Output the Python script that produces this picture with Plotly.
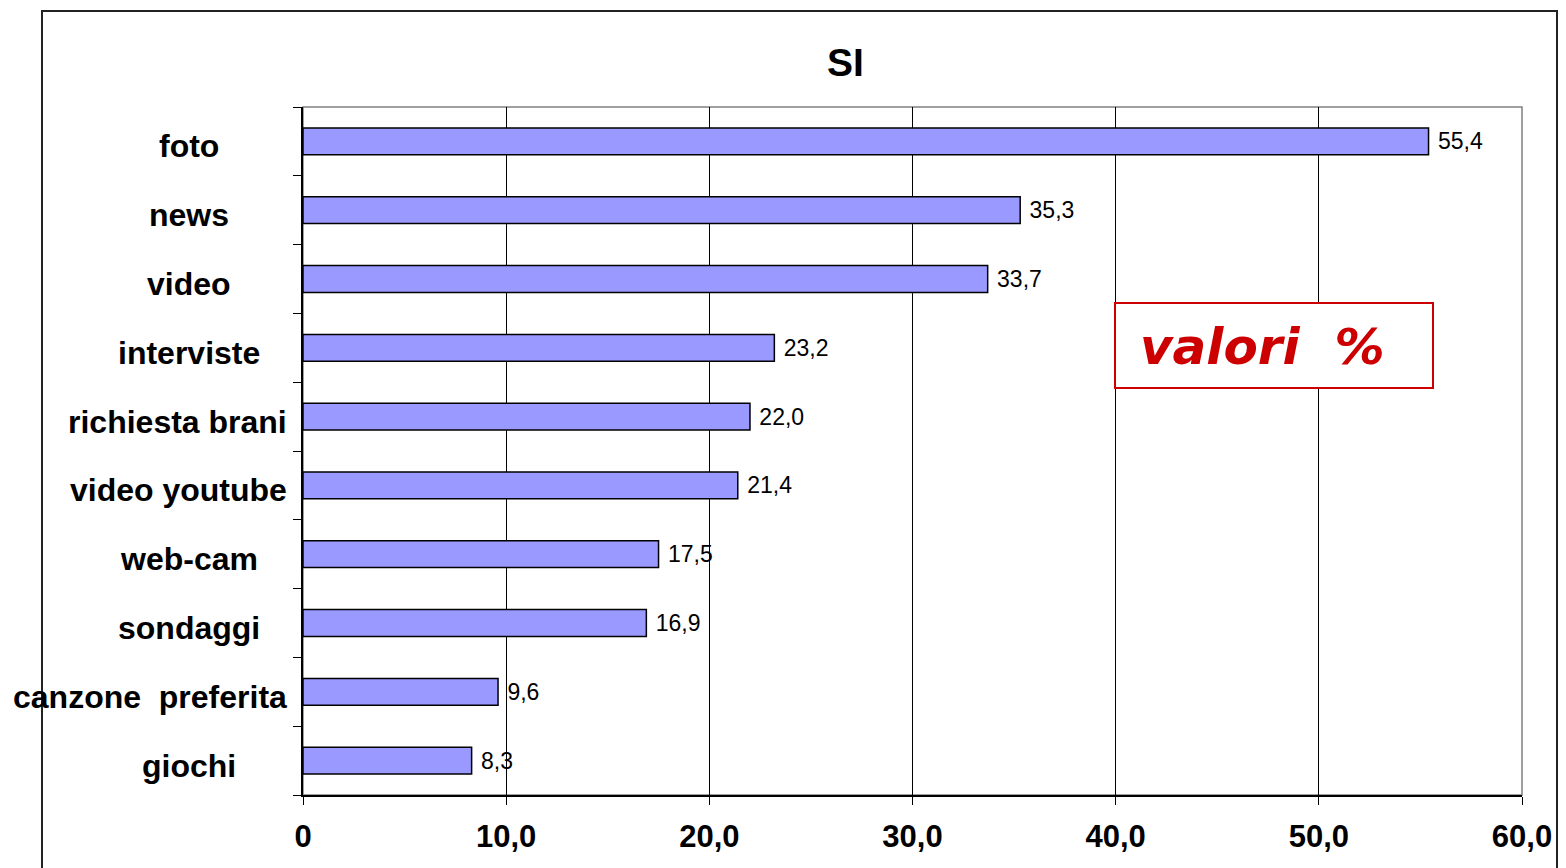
import plotly.graph_objects as go

# Survey answers (percent of "SI")
categories = ["foto", "news", "video", "interviste", "richiesta brani",
              "video youtube", "web-cam", "sondaggi", "canzone  preferita", "giochi"]
values = [55.4, 35.3, 33.7, 23.2, 22.0, 21.4, 17.5, 16.9, 9.6, 8.3]
x_ticks = [0, 10, 20, 30, 40, 50, 60]
x_tick_labels = ["0", "10,0", "20,0", "30,0", "40,0", "50,0", "60,0"]

W, H = 1566, 868
L, R, T, B = 303, 44, 107, 73
pw, ph = W - L - R, H - T - B


def px_x(p):
    return (p - L) / pw


def px_y(p):
    return (H - B - p) / ph


value_text = [f"{v:.1f}".replace(".", ",") for v in values]
bold_font = dict(family="Liberation Sans, Arial", size=31, color="#000", weight="bold")
label_font = dict(family="Liberation Sans, Arial", size=32, color="#000", weight="bold")

fig = go.Figure(go.Bar(
    x=values, y=categories, orientation="h",
    marker=dict(color="#9999FF", line=dict(color="#000000", width=1.5)),
    width=0.39,
    text=value_text, texttemplate=" %{text}", textposition="outside",
    textfont=dict(family="Liberation Sans, Arial", size=23, color="#000000"),
    cliponaxis=False,
))

# category labels: centred in the label column, long ones kept clear of the axis
annotations = []
for c in categories:
    wide = len(c) > 12
    annotations.append(dict(
        x=px_x(289) if wide else px_x(189), y=c, xref="paper", yref="y", text=c,
        showarrow=False, xanchor="right" if wide else "center", yanchor="middle",
        yshift=-5, font=label_font))

annotations.append(dict(x=px_x(845), y=px_y(62), xref="paper", yref="paper", text="SI",
                        showarrow=False, xanchor="center", yanchor="middle",
                        font=dict(family="Liberation Sans, Arial", size=39, color="#000",
                                  weight="bold")))
annotations.append(dict(x=px_x(1262), y=px_y(347), xref="paper", yref="paper",
                        text="valori  %",
                        showarrow=False, xanchor="center", yanchor="middle",
                        font=dict(family="DejaVu Sans", size=50, color="#CC0000",
                                  weight="bold", style="italic")))

shapes = [
    # outer frame
    dict(type="rect", xref="paper", yref="paper",
         x0=px_x(42), x1=px_x(1557), y0=px_y(880), y1=px_y(11),
         line=dict(color="#222222", width=2), fillcolor="rgba(0,0,0,0)", layer="below"),
    # plot area border
    dict(type="rect", xref="paper", yref="paper", x0=0, x1=1, y0=0, y1=1,
         line=dict(color="#808080", width=1.5), fillcolor="rgba(0,0,0,0)", layer="below"),
    # units box
    dict(type="rect", xref="paper", yref="paper",
         x0=px_x(1115), x1=px_x(1433), y0=px_y(388), y1=px_y(303),
         line=dict(color="#CC0000", width=2), fillcolor="#FFFFFF", layer="above"),
]

fig.update_layout(
    width=W, height=H,
    margin=dict(l=L, r=R, t=T, b=B, pad=0),
    paper_bgcolor="#FFFFFF", plot_bgcolor="#FFFFFF",
    showlegend=False,
    annotations=annotations,
    shapes=shapes,
    xaxis=dict(range=[0, 60], tickvals=x_ticks, ticktext=x_tick_labels,
               showgrid=True, gridcolor="#000000", gridwidth=1,
               showline=True, linecolor="#000000", linewidth=1.5,
               ticks="outside", ticklen=8, tickcolor="#000000",
               ticklabelstandoff=5,
               tickfont=bold_font,
               zeroline=False, fixedrange=True),
    yaxis=dict(categoryorder="array", categoryarray=categories[::-1],
               showticklabels=False, ticks="outside", ticklen=8, tickcolor="#000000",
               tickson="boundaries", showgrid=False,
               showline=True, linecolor="#000000", linewidth=1.5,
               zeroline=False, fixedrange=True),
)

fig.write_html("out.html")
